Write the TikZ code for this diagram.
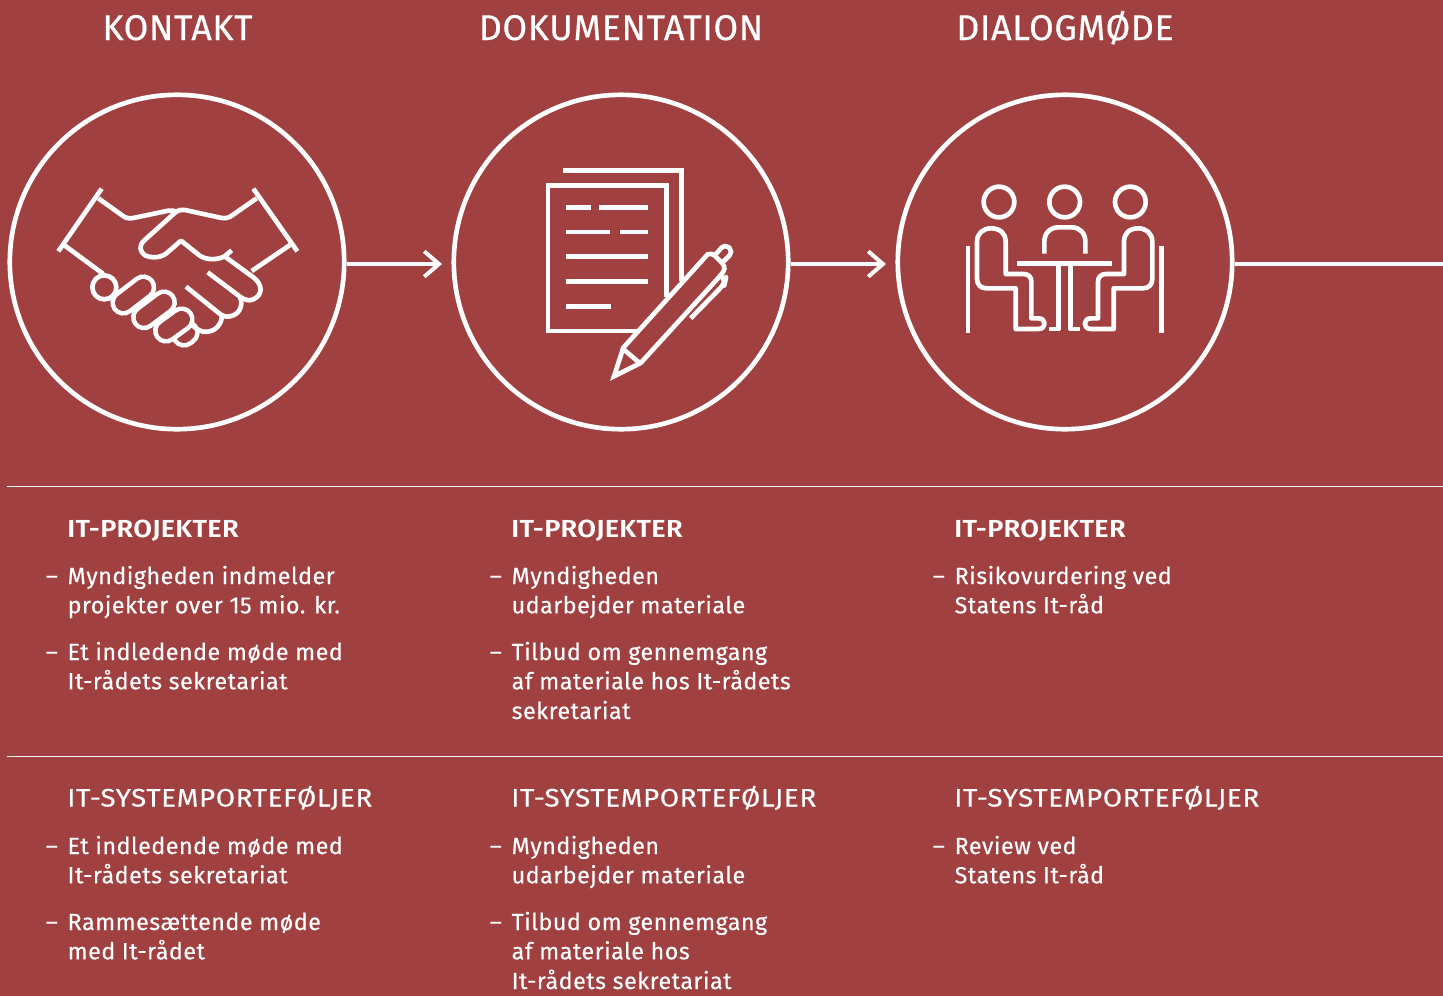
\documentclass[tikz,border=0pt]{standalone}
\usepackage{fontspec}
\setmainfont{Fira Sans}
\newfontfamily\bodyf[LetterSpace=2.0,FakeBold=0.25]{Fira Sans}
\newfontfamily\subf[LetterSpace=2.4,FakeStretch=1.1,FakeBold=0.25]{Fira Sans}
\newfontfamily\headf[LetterSpace=1.7,FakeBold=0.4]{Fira Sans}
\newfontfamily\boldf[LetterSpace=1.2,FakeStretch=1.1]{Fira Sans SemiBold}
\usetikzlibrary{arrows.meta}
\definecolor{bg}{HTML}{A04041}
\tikzset{
  ring/.style={circle,draw=white,line width=3.5pt,minimum size=250.8pt,inner sep=0pt},
  flow/.style={draw=white,line width=2.9pt,-{Straight Barb[length=11pt,width=19pt,line width=3pt]}},
  flowend/.style={draw=white,line width=2.9pt},
  rulel/.style={draw=white,line width=0.6pt},
  icon/.style={draw=white,line width=3.5pt,line join=round},
  hd/.style={text=white,font=\headf\fontsize{26.8}{30}\selectfont,inner sep=0pt,anchor=base},
  sb/.style={text=white,font=\boldf\fontsize{18.5}{22}\selectfont,inner sep=0pt,anchor=base west},
  sn/.style={text=white,font=\subf\fontsize{19}{22}\selectfont,inner sep=0pt,anchor=base west},
  bd/.style={text=white,font=\bodyf\fontsize{17.5}{22}\selectfont,inner sep=0pt,anchor=base west,align=left},
  da/.style={text=white,font=\bodyf\fontsize{17.5}{22}\selectfont,inner sep=0pt,anchor=base west},
}
\newcommand{\itmA}[5]{% name, x, y, line
  \node[da] (#1d) at (#2-22.5,#3) {–};
  \node[bd] (#1a) at (#2-0.6,#3) {#4};
  \node[bd] (#1b) at (#2-0.6,#3+29.3) {#5};
}
\newcommand{\itmB}[6]{%
  \itmA{#1}{#2}{#3}{#4}{#5}
  \node[bd] (#1c) at (#2-0.6,#3+59) {#6};
}
\newcommand{\capsule}[2]{%
  \draw[white,line width=19.5pt,line cap=round] #1 -- #2;
  \draw[bg,line width=12.5pt,line cap=round] #1 -- #2;
}
\begin{document}
\begin{tikzpicture}[x=0.75pt,y=-0.75pt]
\useasboundingbox (0,0) rectangle (1443,996);
\fill[bg] (0,0) rectangle (1443,996);
\node[ring] (c1) at (177,262) {};
\node[ring] (c2) at (621,262) {};
\node[ring] (c3) at (1065,262) {};
\coordinate (a1) at (442,264);
\coordinate (a2) at (886,264);
\coordinate (a3) at (1443,264);
\draw[flow] (c1.east |- a1) -- (a1);
\draw[flow] (c2.east |- a2) -- (a2);
\draw[flowend] (c3.east |- a3) -- (a3);
\node[hd] (h1) at (177.5,40) {KONTAKT};
\node[hd] (h2) at (621,40) {DOKUMENTATION};
\node[hd] (h3) at (1065,40) {DIALOGMØDE};
\coordinate (r1a) at (7,486); \coordinate (r1b) at (1443,486);
\coordinate (r2a) at (7,756); \coordinate (r2b) at (1443,756);
\draw[rulel] (r1a) -- (r1b);
\draw[rulel] (r2a) -- (r2b);

% handshake icon
\begin{scope}[shift={(40,170)},x=0.25pt,y=-0.25pt]
\draw[icon,line cap=butt] (185,56) -- (55,244);
\draw[icon,line cap=butt] (640,56) -- (772,244);
\capsule{(432,494)}{(440,488)}
\capsule{(378,482)}{(425,448)}
\capsule{(312,442)}{(372,397)}
\capsule{(250,398)}{(310,352)}
\draw[icon,fill=bg] (193,352) circle (36);
\draw[icon] (72,225) -- (190,312);
\draw[icon] (175,85) -- (245,135) .. controls (258,145) and (265,146) .. (280,144) -- (385,122) .. controls (395,120) and (403,122) .. (410,126);
\draw[icon] (650,85) -- (578,135) .. controls (565,145) and (555,146) .. (540,143) -- (440,121) .. controls (425,118) and (415,120) .. (405,128) -- (312,212) .. controls (295,228) and (300,245) .. (315,256) .. controls (335,265) and (365,265) .. (385,245) -- (423,212) -- (478,256) .. controls (500,272) and (535,270) .. (555,258) -- (575,241);
\draw[icon] (555,260) -- (640,322) .. controls (670,345) and (668,375) .. (640,388) .. controls (625,394) and (615,390) .. (600,380) -- (503,307);
\draw[icon] (600,380) .. controls (612,410) and (595,440) .. (560,440) .. controls (550,440) and (545,435) .. (535,428) -- (438,350);
\draw[icon] (545,430) .. controls (550,465) and (520,490) .. (490,485) .. controls (475,482) and (470,475) .. (455,465);
\draw[icon] (635,303) -- (750,225);
\end{scope}

% document icon
\begin{scope}[shift={(530,155)},x=0.25pt,y=-0.25pt]
\draw[icon,line cap=butt,line join=miter] (98,47) -- (454,47) -- (454,378);
\draw[icon,line cap=butt,line join=miter] (410,425) -- (410,92) -- (54,92) -- (54,528) -- (325,528);
\draw[icon,line cap=butt] (107,157) -- (184,157) (207,157) -- (355,157)
  (107,231) -- (240,231) (270,231) -- (355,231)
  (107,305) -- (355,305) (107,379) -- (355,379) (107,454) -- (243,454);
\draw[icon,line join=miter,miter limit=3] (252,664) -- (280,578) -- (533,298) [rounded corners=3pt] -- (545,293) -- (585,332) -- (582,350) [sharp corners] -- (332,624) -- cycle;
\draw[icon] (283,585) -- (330,625);
\draw[icon,rounded corners=4pt] (557,298) -- (585,266) -- (610,290) -- (580,320);
\draw[icon,rounded corners=5pt] (572,362) -- (587,372) -- (584,386) -- (482,490);
\end{scope}

% meeting icon
\begin{scope}[shift={(955,175)},x=0.25pt,y=-0.25pt]
\foreach \cx in {132,329,526}{\draw[icon] (\cx,81) circle (46);}
\draw[icon,line cap=butt] (39,214) -- (39,474);
\draw[icon,line cap=butt] (619,214) -- (619,474);
\draw[icon,line cap=butt] (186,266) -- (472,266);
\draw[icon,line cap=butt] (268,236) -- (268,200) .. controls (268,175) and (285,157) .. (310,157) -- (350,157) .. controls (375,157) and (391,175) .. (391,200) -- (391,236);
\draw[icon,line cap=butt] (282,462) -- (311,462) -- (311,270);
\draw[icon,line cap=butt] (375,462) -- (346,462) -- (346,270);
\draw[icon] (152,297) -- (205,297) .. controls (222,297) and (229,307) .. (229,320) -- (229,430) -- (250,430) .. controls (275,430) and (275,462) .. (250,462) -- (182,462) -- (182,340) -- (95,340) .. controls (75,340) and (66,328) .. (66,310) -- (66,200) .. controls (66,175) and (85,160) .. (108,160) .. controls (135,160) and (152,175) .. (152,200) -- cycle;
\draw[icon] (507,297) -- (454,297) .. controls (437,297) and (429,307) .. (429,320) -- (429,430) -- (408,430) .. controls (383,430) and (383,462) .. (408,462) -- (476,462) -- (476,340) -- (563,340) .. controls (583,340) and (592,328) .. (592,310) -- (592,200) .. controls (592,175) and (573,160) .. (550,160) .. controls (523,160) and (507,175) .. (507,200) -- cycle;
\end{scope}

% text column 1
\node[sb] (s11) at (67,537) {IT-PROJEKTER};
\itmA{p11}{68}{584}{Myndigheden indmelder}{projekter over 15 mio. kr.}
\itmA{p12}{68}{660}{Et indledende møde med}{It-rådets sekretariat}
\node[sn] (s12) at (67,806.5) {IT-SYSTEMPORTEFØLJER};
\itmA{q11}{68}{854}{Et indledende møde med}{It-rådets sekretariat}
\itmA{q12}{68}{930}{Rammesættende møde}{med It-rådet}
% column 2
\node[sb] (s21) at (511,537) {IT-PROJEKTER};
\itmA{p21}{512}{584}{Myndigheden}{udarbejder materiale}
\itmB{p22}{512}{660}{Tilbud om gennemgang}{af materiale hos It-rådets}{sekretariat}
\node[sn] (s22) at (511,806.5) {IT-SYSTEMPORTEFØLJER};
\itmA{q21}{512}{854}{Myndigheden}{udarbejder materiale}
\itmB{q22}{512}{930}{Tilbud om gennemgang}{af materiale hos}{It-rådets sekretariat}
% column 3
\node[sb] (s31) at (954,537) {IT-PROJEKTER};
\itmA{p31}{955}{584}{Risikovurdering ved}{Statens It-råd}
\node[sn] (s32) at (954,806.5) {IT-SYSTEMPORTEFØLJER};
\itmA{q31}{955}{854}{Review ved}{Statens It-råd}
\end{tikzpicture}
\end{document}
